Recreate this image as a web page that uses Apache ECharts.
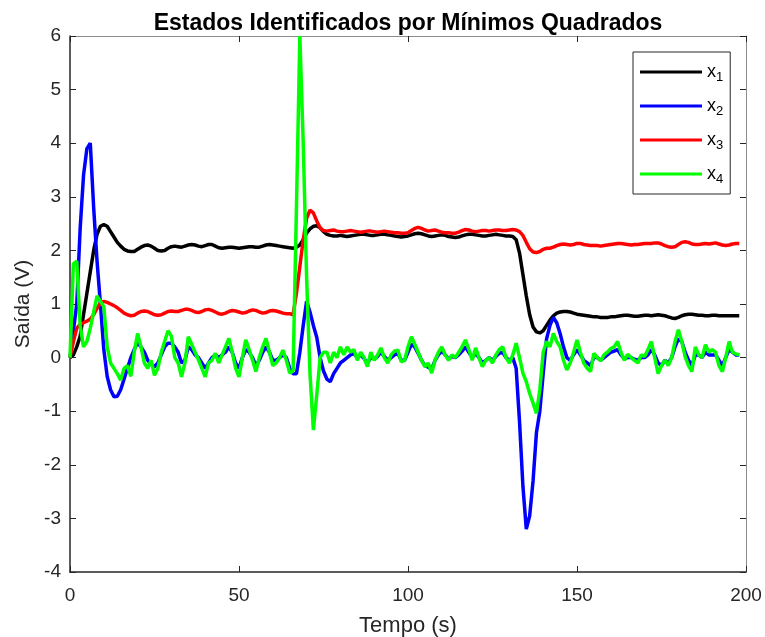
<!DOCTYPE html>
<html>
<head>
<meta charset="utf-8">
<script src="https://cdn.jsdelivr.net/npm/echarts@6/dist/echarts.min.js"></script>
<style>html,body{margin:0;padding:0;background:#fff}#c{width:765px;height:637px}</style>
</head>
<body>
<div id="c"></div>
<script>
// time (s), one sample per second
var tempo = [];
for (var k = 0; k <= 198; k++) tempo.push(k);

var x1 = [0,0.05,0.2,0.4,0.8,1.2,1.6,2.0,2.3,2.45,2.48,2.45,2.35,2.25,2.15,2.08,2.02,1.99,1.98,1.98,
2.02,2.06,2.09,2.1,2.08,2.04,2.0,1.99,2.0,2.04,2.07,2.08,2.07,2.06,2.08,2.1,2.11,2.1,2.08,2.07,
2.09,2.11,2.11,2.08,2.05,2.04,2.05,2.06,2.06,2.05,2.04,2.05,2.06,2.07,2.07,2.06,2.06,2.08,2.1,2.11,
2.1,2.09,2.08,2.07,2.06,2.05,2.04,2.06,2.1,2.2,2.32,2.4,2.45,2.46,2.42,2.35,2.3,2.28,2.27,2.27,
2.28,2.27,2.26,2.27,2.28,2.29,2.3,2.3,2.29,2.28,2.28,2.29,2.3,2.3,2.29,2.28,2.27,2.26,2.25,2.26,
2.27,2.29,2.31,2.32,2.31,2.29,2.27,2.26,2.27,2.28,2.29,2.28,2.26,2.25,2.24,2.25,2.27,2.29,2.3,2.3,
2.29,2.28,2.27,2.27,2.28,2.29,2.3,2.29,2.28,2.27,2.27,2.26,2.2,1.95,1.55,1.15,0.8,0.57,0.48,0.46,
0.5,0.6,0.7,0.78,0.83,0.85,0.86,0.86,0.85,0.83,0.81,0.8,0.79,0.78,0.77,0.76,0.76,0.75,0.75,0.75,
0.76,0.76,0.77,0.78,0.79,0.79,0.78,0.77,0.77,0.78,0.79,0.79,0.78,0.79,0.8,0.79,0.78,0.76,0.74,0.73,
0.75,0.78,0.8,0.81,0.81,0.8,0.79,0.79,0.78,0.78,0.79,0.79,0.78,0.78,0.78,0.78,0.78,0.78,0.78];

var x2 = [0,0.5,1.0,2.4,3.4,3.9,4.0,2.8,1.8,1.0,0.15,-0.35,-0.6,-0.73,-0.72,-0.6,-0.4,-0.2,0.0,0.15,
0.28,0.2,0.1,-0.05,-0.12,-0.17,-0.1,0.05,0.2,0.27,0.27,0.2,0.1,-0.1,-0.05,0.2,0.15,0.05,0.0,-0.1,
-0.2,-0.1,0.0,0.05,0.0,0.05,0.1,0.2,0.1,-0.1,-0.2,0.0,0.15,0.1,0.0,-0.15,-0.05,0.1,0.2,0.1,
-0.05,-0.05,0.0,0.05,0.0,-0.2,-0.3,-0.3,0.1,0.6,1.05,0.85,0.6,0.38,0.0,-0.25,-0.4,-0.45,-0.3,-0.2,
-0.1,-0.05,0.0,0.05,0.08,0.0,0.05,-0.02,-0.1,0.0,-0.02,0.02,0.1,0.02,-0.05,0.0,0.05,0.08,-0.05,-0.05,
0.1,0.25,0.2,0.08,-0.05,-0.15,-0.18,-0.22,-0.05,0.05,0.12,0.05,-0.02,0.02,0.0,0.05,0.12,0.2,0.1,0.0,
0.08,0.0,-0.1,-0.05,0.0,-0.05,0.02,0.08,0.1,0.0,-0.05,0.0,-0.2,-1.2,-2.4,-3.2,-2.95,-2.3,-1.4,-1.0,
-0.3,0.35,0.6,0.75,0.65,0.45,0.2,0.0,-0.05,0.05,0.15,0.05,-0.05,-0.1,-0.15,0.0,0.0,-0.05,0.0,0.05,
0.1,0.12,0.15,0.05,-0.02,0.0,0.0,-0.03,-0.05,0.0,0.0,0.05,0.15,0.05,-0.1,-0.15,-0.05,-0.1,0.0,0.2,
0.35,0.3,0.1,-0.05,-0.15,0.05,0.05,0.0,0.1,0.05,0.05,0.05,-0.05,-0.15,0.0,0.15,0.1,0.05,0.05];

var x3 = [0,0.3,0.55,0.62,0.65,0.68,0.72,0.8,0.92,1.02,1.05,1.03,1.0,0.97,0.93,0.88,0.83,0.8,0.78,0.79,
0.83,0.86,0.87,0.86,0.83,0.8,0.79,0.8,0.83,0.86,0.87,0.86,0.86,0.88,0.9,0.9,0.88,0.85,0.84,0.86,
0.89,0.9,0.88,0.85,0.82,0.81,0.83,0.86,0.88,0.87,0.85,0.83,0.84,0.87,0.89,0.88,0.85,0.83,0.84,0.87,
0.88,0.87,0.85,0.83,0.82,0.82,0.8,1.2,1.7,2.2,2.6,2.75,2.7,2.55,2.42,2.37,2.36,2.37,2.38,2.36,
2.35,2.35,2.36,2.37,2.36,2.35,2.34,2.35,2.36,2.36,2.35,2.34,2.35,2.36,2.35,2.34,2.33,2.33,2.32,2.32,
2.33,2.37,2.41,2.43,2.41,2.38,2.36,2.37,2.38,2.36,2.34,2.33,2.33,2.32,2.32,2.34,2.37,2.39,2.38,2.36,
2.35,2.36,2.37,2.37,2.36,2.37,2.38,2.38,2.37,2.37,2.38,2.39,2.38,2.35,2.28,2.15,2.03,1.97,1.96,1.98,
2.02,2.04,2.04,2.06,2.09,2.11,2.12,2.11,2.1,2.11,2.13,2.13,2.11,2.1,2.09,2.09,2.09,2.08,2.09,2.1,
2.11,2.12,2.13,2.13,2.12,2.11,2.1,2.11,2.11,2.12,2.13,2.13,2.13,2.14,2.14,2.12,2.09,2.07,2.06,2.07,
2.11,2.15,2.16,2.15,2.12,2.11,2.11,2.12,2.13,2.12,2.13,2.14,2.12,2.1,2.09,2.1,2.12,2.13,2.13];

var x4 = [0,1.75,1.8,0.6,0.2,0.3,0.55,0.85,1.15,1.05,0.95,0.2,-0.1,-0.2,-0.3,-0.42,-0.2,-0.15,-0.35,0.1,
0.45,0.2,-0.1,-0.2,-0.05,-0.33,-0.2,0.1,0.3,0.5,0.4,0.0,-0.1,-0.36,-0.1,0.39,0.25,0.1,-0.04,-0.2,
-0.36,-0.1,-0.05,0.08,-0.1,0.05,0.2,0.36,0.1,-0.2,-0.36,0.0,0.33,0.15,-0.05,-0.26,0.0,0.2,0.36,0.1,
-0.15,-0.1,0.0,0.14,-0.05,-0.29,-0.25,2.8,6.0,4.0,1.5,-0.3,-1.35,-0.7,0.0,0.1,0.1,-0.1,0.1,0.0,
0.2,0.05,0.2,0.1,0.15,-0.05,0.1,0.0,-0.17,0.1,-0.05,0.05,0.18,0.0,-0.1,0.05,0.12,0.14,-0.08,-0.05,
0.2,0.39,0.25,0.1,-0.05,-0.17,-0.1,-0.29,-0.05,0.1,0.2,0.05,-0.05,0.05,0.0,0.1,0.2,0.33,0.15,-0.05,
0.18,0.0,-0.17,-0.05,0.0,-0.1,0.05,0.15,0.2,0.0,-0.1,0.05,0.27,0.0,-0.29,-0.45,-0.67,-0.85,-1.04,-0.6,
0.1,0.3,0.2,0.45,0.3,0.2,-0.05,-0.23,-0.1,0.1,0.33,0.1,-0.1,-0.2,-0.26,0.08,0.0,-0.06,0.05,0.1,
0.17,0.2,0.3,0.1,-0.05,0.06,0.0,-0.05,-0.1,0.05,0.02,0.15,0.3,0.0,-0.3,-0.15,-0.05,-0.15,0.0,0.3,
0.52,0.3,0.02,-0.15,-0.26,0.2,0.05,0.0,0.24,0.1,0.15,0.1,-0.15,-0.26,0.0,0.3,0.1,0.07,0.05];

var seriesNames = ['x1','x2','x3','x4'];
var seriesColors = ['#000000','#0000ff','#ff0000','#00ff00'];
var seriesData = [x1, x2, x3, x4];

var FONT = '"Liberation Sans", Arial, Helvetica, sans-serif';
var AX = '#262626';

function pairs(v){ return v.map(function(y,i){ return [tempo[i], y]; }); }

var chart = echarts.init(document.getElementById('c'), null, {renderer:'canvas'});
chart.setOption({
  animation: false,
  backgroundColor: '#ffffff',
  title: {
    text: 'Estados Identificados por Mínimos Quadrados',
    left: 403, top: 7, textAlign: 'center',
    textStyle: {fontFamily: FONT, fontSize: 23, fontWeight: 'bold', color: '#000'}
  },
  grid: {left: 70, right: 19, top: 36, bottom: 65, containLabel: false, outerBoundsMode: 'none'},
  legend: {
    orient: 'vertical', left: 633, top: 52,
    data: seriesNames,
    icon: 'rect', itemWidth: 62, itemHeight: 3, itemGap: 10, itemTextGap: 4,
    padding: [8, 7, 8, 7],
    borderColor: AX, borderWidth: 1, backgroundColor: '#fff',
    formatter: function(n){ return 'x{s|' + n.substring(1) + '}'; },
    textStyle: {
      fontFamily: FONT, fontSize: 18, color: '#000', lineHeight: 24,
      rich: {s: {fontFamily: FONT, fontSize: 13, color: '#000', verticalAlign: 'bottom', lineHeight: 24, padding: [10,0,0,0]}}
    }
  },
  xAxis: [{
    type: 'value', min: 0, max: 200, interval: 50,
    name: 'Tempo (s)', nameLocation: 'middle', nameGap: 43,
    nameTextStyle: {fontFamily: FONT, fontSize: 22, color: AX},
    axisLine: {show: true, onZero: false, lineStyle: {color: AX, width: 1.5}},
    axisTick: {show: true, inside: true, length: 6, lineStyle: {color: AX}},
    axisLabel: {fontFamily: FONT, fontSize: 19, color: AX, margin: 14},
    splitLine: {show: false}
  },{
    type: 'value', min: 0, max: 200, interval: 50, position: 'top',
    axisLine: {show: true, onZero: false, lineStyle: {color: '#8c8c8c', width: 1}},
    axisTick: {show: true, inside: true, length: 6, lineStyle: {color: AX}},
    axisLabel: {show: false}, splitLine: {show: false}
  }],
  yAxis: [{
    type: 'value', min: -4, max: 6, interval: 1,
    name: 'Saída (V)', nameLocation: 'middle', nameGap: 35,
    nameTextStyle: {fontFamily: FONT, fontSize: 21, color: AX},
    axisLine: {show: true, onZero: false, lineStyle: {color: AX, width: 1.5}},
    axisTick: {show: true, inside: true, length: 6, lineStyle: {color: AX}},
    axisLabel: {fontFamily: FONT, fontSize: 19, color: AX, margin: 9},
    splitLine: {show: false}
  },{
    type: 'value', min: -4, max: 6, interval: 1, position: 'right',
    axisLine: {show: true, onZero: false, lineStyle: {color: '#8c8c8c', width: 1}},
    axisTick: {show: true, inside: true, length: 6, lineStyle: {color: AX}},
    axisLabel: {show: false}, splitLine: {show: false}
  }],
  series: seriesNames.map(function(n, i){
    return {
      name: n, type: 'line', xAxisIndex: 0, yAxisIndex: 0,
      data: pairs(seriesData[i]), showSymbol: false, symbol: 'none',
      color: seriesColors[i],
      lineStyle: {color: seriesColors[i], width: 3.5}
    };
  })
});
</script>
</body>
</html>
